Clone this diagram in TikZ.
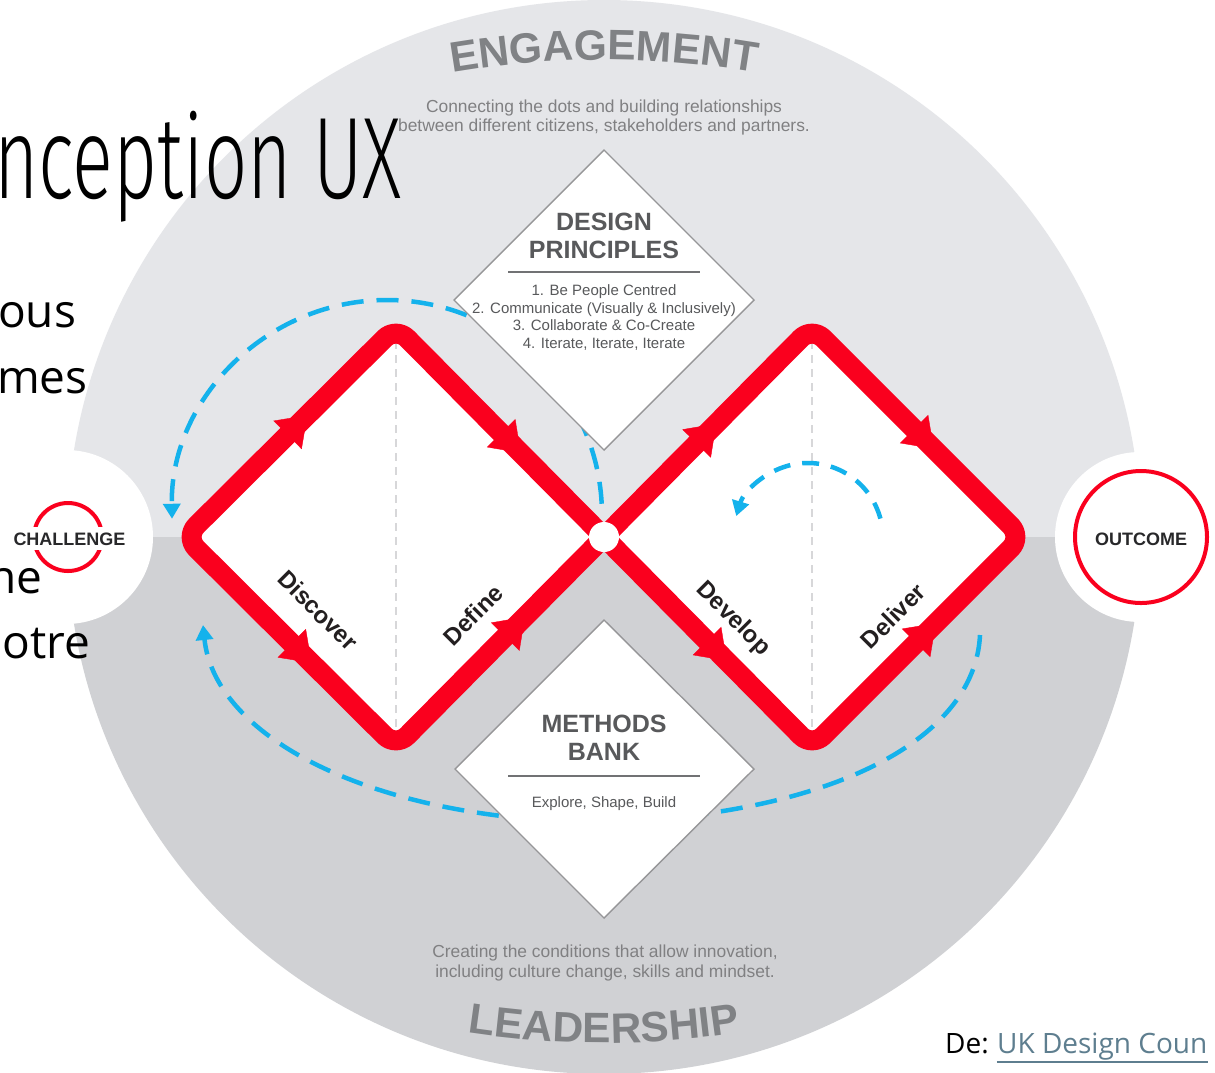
\documentclass[tikz,border=0pt]{standalone}
\usepackage{fontspec}
\setmainfont{Liberation Sans}
\newfontfamily\osfont{Open Sans}
\newfontfamily\ttlfont{Fira Sans}[UprightFont=* Light]
\usetikzlibrary{arrows.meta,decorations.markings,decorations.text}
\definecolor{topgrey}{RGB}{229,230,233}
\definecolor{botgrey}{RGB}{208,209,212}
\definecolor{dred}{RGB}{250,0,30}
\definecolor{dblue}{RGB}{20,178,236}
\definecolor{txtgrey}{RGB}{128,130,133}
\definecolor{subgrey}{RGB}{128,128,130}
\definecolor{boxgrey}{RGB}{88,89,91}
\definecolor{panelgrey}{RGB}{150,150,152}
\definecolor{guidegrey}{RGB}{215,215,217}
\definecolor{lbltext}{RGB}{35,31,32}
\definecolor{darktext}{RGB}{40,40,42}
\definecolor{linkblue}{RGB}{94,126,143}
\newcommand{\curvefont}{\color{txtgrey}\bfseries\fontsize{42.5}{44}\selectfont}
\begin{document}
\begin{tikzpicture}[x=1pt,y=1pt,
  redline/.style={draw=dred, line width=20pt, rounded corners=16pt, line join=round},
  flow/.style={decoration={markings, mark=at position #1 with {\arrow{Triangle[width=40pt,length=28pt,color=dred]}}}, decorate},
  bluedash/.style={draw=dblue, line width=4.5pt, dash pattern=on 22pt off 13pt},
  bluetip/.style={-{Triangle[width=17pt,length=15pt]}},
  guide/.style={draw=guidegrey, line width=1.3pt, dash pattern=on 8pt off 6pt},
  panel/.style={draw=panelgrey, line width=1.4pt, fill=white},
  hdr/.style={font=\bfseries\fontsize{25}{25}\selectfont, text=boxgrey, inner sep=0pt, anchor=base},
  item/.style={font=\fontsize{15}{15}\selectfont, text=boxgrey, inner sep=0pt, anchor=base},
  lbl/.style={font=\bfseries\fontsize{24}{24}\selectfont, text=lbltext, inner sep=0pt},
  sub/.style={font=\fontsize{17.4}{17.4}\selectfont, text=subgrey, inner sep=0pt, anchor=base},
  slide/.style={font=\osfont\fontsize{46}{46}\selectfont, inner sep=0pt, anchor=base west},
  rulebar/.style={draw=boxgrey!85, line width=1.8pt}
]
\useasboundingbox (0,0) rectangle (1215,-1072);
\clip (0,0) rectangle (1215,-1072);
\fill[white] (0,0) rectangle (1215,-1072);
% big circle
\fill[topgrey] (67,-537) arc[start angle=180,end angle=0,radius=537] -- cycle;
\fill[botgrey] (67,-537) arc[start angle=180,end angle=360,radius=537] -- cycle;
\fill[white] (66,-537) circle[radius=87];
\fill[white] (1140,-537) circle[radius=85];
% diamonds
\coordinate (LL) at (185,-537);
\coordinate (LT) at (396,-327);
\coordinate (X) at (604,-537);
\coordinate (LB) at (396,-747);
\coordinate (RT) at (812,-327);
\coordinate (RR) at (1022,-537);
\coordinate (RB) at (812,-747);
\fill[white] (LL) -- (LT) -- (X) -- (LB) -- cycle;
\fill[white] (X) -- (RT) -- (RR) -- (RB) -- cycle;
\draw[guide] (LT) -- (LB);
\draw[guide] (RT) -- (RB);
% blue loops
\draw[bluedash, bluetip] (601.7,-503.75) arc[start angle=3,end angle=181,radius=215];
\draw[bluedash, bluetip] (980,-635) .. controls (975,-740) and (830,-815) .. (604,-822) .. controls (380,-822) and (215,-740) .. (203,-625);
\draw[bluedash, dash pattern=on 17pt off 12pt, bluetip] (880.4,-518.6) arc[start angle=15,end angle=163,radius=75];
% red double diamond
\draw[redline] (X) -- (LT) -- (LL) -- (LB) -- (X);
\draw[redline] (X) -- (RT) -- (RR) -- (RB) -- (X);
\path[flow=0.58] (LL) -- (LT);
\path[flow=0.6] (LT) -- (X);
\path[flow=0.6] (LL) -- (LB);
\path[flow=0.62] (LB) -- (X);
\path[flow=0.54] (X) -- (RT);
\path[flow=0.58] (RT) -- (RR);
\path[flow=0.59] (X) -- (RB);
\path[flow=0.59] (RB) -- (RR);
\node[circle, fill=white, minimum size=30pt, inner sep=0pt] (cross) at (X) {};
% design principles
\draw[panel] (604,-150) -- (754,-300) -- (604,-450) -- (454,-300) -- cycle;
\node[hdr] (dp1) at (604,-230) {DESIGN};
\node[hdr] (dp2) at (604,-258) {PRINCIPLES};
\coordinate (dpa) at (508,-272);
\coordinate (dpb) at (700,-272);
\draw[rulebar] (dpa) -- (dpb);
\node[item] (i1) at (604,-295) {1. Be People Centred};
\node[item] (i2) at (604,-313) {2. Communicate (Visually \& Inclusively)};
\node[item] (i3) at (604,-330) {3. Collaborate \& Co-Create};
\node[item] (i4) at (604,-348) {4. Iterate, Iterate, Iterate};
% methods bank
\draw[panel] (604,-620) -- (754,-769) -- (604,-918) -- (455,-769) -- cycle;
\node[hdr] (mb1) at (604,-732) {METHODS};
\node[hdr] (mb2) at (604,-760) {BANK};
\coordinate (mba) at (508,-776);
\coordinate (mbb) at (700,-776);
\draw[rulebar] (mba) -- (mbb);
\node[item] (mb3) at (604,-807) {Explore, Shape, Build};
% phase labels
\node[lbl, rotate=-45] (discover) at (318,-610) {Discover};
\node[lbl, rotate=45] (define) at (473,-615) {Define};
\node[lbl, rotate=-45] (develop) at (733,-619) {Develop};
\node[lbl, rotate=45] (deliver) at (893,-616) {Deliver};
% curved titles
\path[decorate, decoration={text along path, text align=center, text={|\curvefont|ENGAGEMENT}}] (432.3,-76.5) arc[start angle=101,end angle=79,radius=900];
\path[decorate, decoration={text along path, text align=center, text={|\curvefont|LEADERSHIP}}] (432.3,-1026.5) arc[start angle=259,end angle=281,radius=900];
\node[sub] (e1) at (604,-112) {Connecting the dots and building relationships};
\node[sub] (e2) at (604,-131) {between different citizens, stakeholders and partners.};
\node[sub] (l1) at (605,-957) {Creating the conditions that allow innovation,};
\node[sub] (l2) at (605,-977) {including culture change, skills and mindset.};
% challenge / outcome
\draw[dred, line width=4pt] (68,-537) circle[radius=34];
\node[fill=white, inner xsep=1pt, inner ysep=5pt, anchor=base, font=\bfseries\fontsize{18}{18}\selectfont, text=darktext] (chal) at (69.5,-545) {CHALLENGE};
\draw[dred, line width=4pt] (1141,-537) circle[radius=66];
\node[anchor=base, inner sep=0pt, font=\bfseries\fontsize{18}{18}\selectfont, text=darktext] (outc) at (1141,-545) {OUTCOME};
% slide text
\node[anchor=base west, inner sep=0pt, font=\ttlfont\fontsize{116}{116}\selectfont] (title) at (-6,-198) {\scalebox{0.655}[1]{nception UX}};
\node[slide] (s1) at (-2,-327) {ous};
\node[slide] (s2) at (-3,-393) {mes};
\node[slide] (s3) at (-12,-593) {ne};
\node[slide] (s4) at (2.5,-658) {otre};
\node[anchor=base west, inner sep=0pt, font=\osfont\fontsize{28}{28}\selectfont] (de) at (945,-1053) {De:};
\node[anchor=base west, inner sep=0pt, font=\osfont\fontsize{28}{28}\selectfont, text=linkblue] (uk) at ([xshift=8pt]de.base east) {UK Design Coun};
\draw[linkblue, line width=1.4pt] ([yshift=-9pt]uk.base west) -- ([yshift=-9pt]uk.base east);
\end{tikzpicture}
\end{document}
